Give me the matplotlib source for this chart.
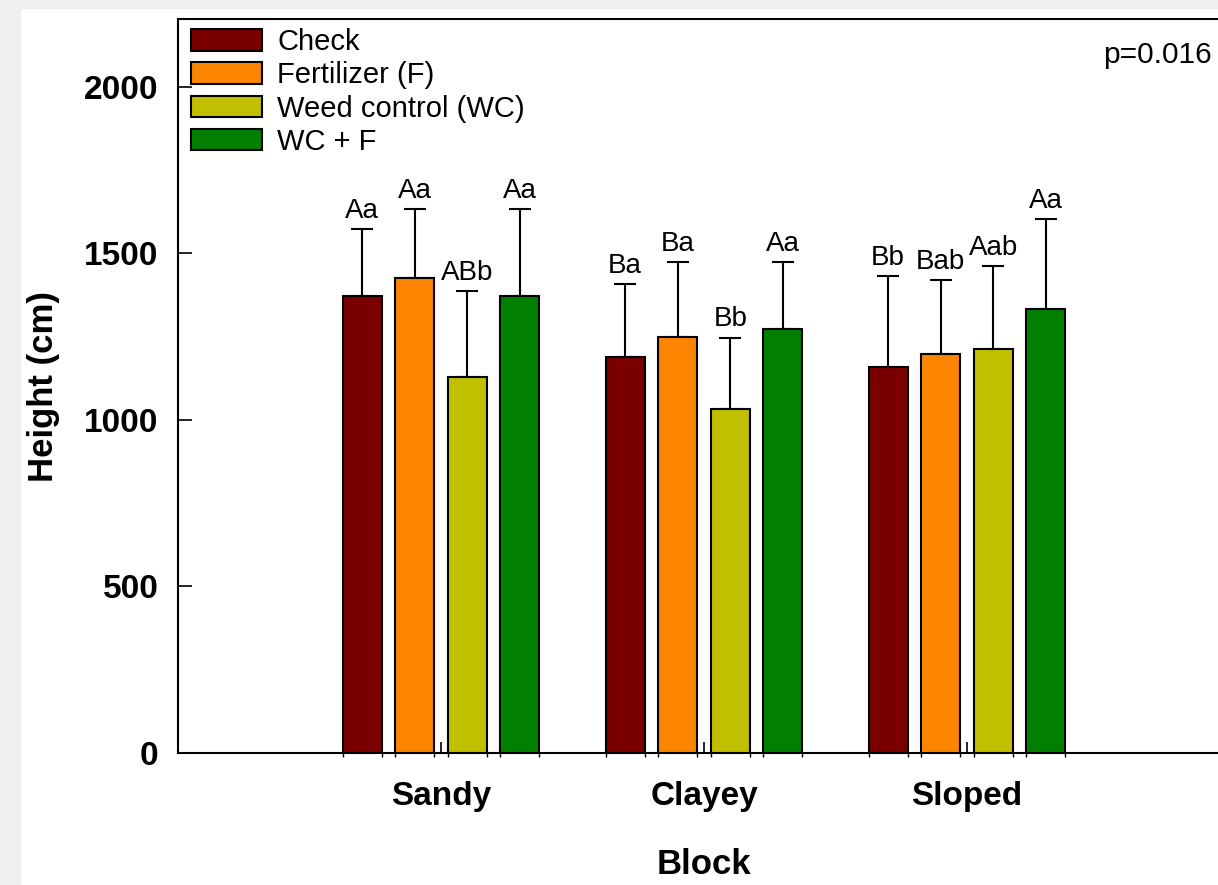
import numpy as np
import matplotlib.pyplot as plt
from matplotlib.patches import Rectangle

plt.rcParams['font.family'] = ['Liberation Sans', 'DejaVu Sans']

blocks = ['Sandy', 'Clayey', 'Sloped']
treatments = ['Check', 'Fertilizer (F)', 'Weed control (WC)', 'WC + F']
colors = ['#7a0000', '#fb8500', '#c0c000', '#007f00']

# mean height per treatment (rows) and block (columns)
height = [[1372, 1189, 1159],
          [1426, 1249, 1198],
          [1129, 1033, 1213],
          [1372, 1273, 1333]]
# upper error bar
err = [[201, 219, 273],
       [207, 225, 222],
       [258, 213, 249],
       [261, 201, 270]]
letters = [['Aa', 'Ba', 'Bb'],
           ['Aa', 'Ba', 'Bab'],
           ['ABb', 'Bb', 'Aab'],
           ['Aa', 'Aa', 'Aa']]

W, H = 1218, 885
fig = plt.figure(figsize=(W / 100, H / 100), dpi=100)
fig.set_facecolor('white')
# light grey page margin
fig.patches.append(Rectangle((0, 0), 20 / W, 1, transform=fig.transFigure, color='#efefef', zorder=0))
fig.patches.append(Rectangle((0, 1 - 8 / H), 1, 8 / H, transform=fig.transFigure, color='#efefef', zorder=0))

ax = fig.add_axes([178 / W, (H - 753) / H, 1052 / W, 734 / H])
ax.set_xlim(0, 4)
ax.set_ylim(0, 2204)

x = np.arange(1, len(blocks) + 1)
bw = 0.148
step = 0.2
edges = []
for i in range(len(treatments)):
    xi = x + (i - 1.5) * step
    ax.bar(xi, height[i], bw, color=colors[i], edgecolor='black', linewidth=1.5,
           label=treatments[i], zorder=3)
    ax.errorbar(xi, height[i], yerr=[np.zeros(3), err[i]], fmt='none', ecolor='black',
                elinewidth=1.5, capsize=8, capthick=1.5, zorder=2)
    for j in range(len(blocks)):
        ax.annotate(letters[i][j], (xi[j], height[i][j] + err[i][j]), xytext=(0, 4),
                    textcoords='offset points', ha='center', va='bottom', fontsize=20)
    edges += list(xi - bw / 2) + list(xi + bw / 2)

ax.set_yticks([0, 500, 1000, 1500, 2000])
ax.tick_params(axis='y', direction='in', length=10, width=1.2, pad=14, labelsize=24)
for t in ax.get_yticklabels():
    t.set_fontweight('bold')
ax.set_xticks(x)
ax.set_xticklabels(blocks, fontsize=24, fontweight='bold')
ax.tick_params(axis='x', direction='in', length=8, width=1.2, pad=20)
ax.set_xticks(edges, minor=True)
ax.tick_params(axis='x', which='minor', direction='out', length=3, width=1)

for s in ax.spines.values():
    s.set_linewidth(1.5)

ax.set_ylabel('Height (cm)', fontsize=25, fontweight='bold')
ax.set_xlabel('Block', fontsize=25, fontweight='bold', labelpad=26)
ax.yaxis.set_label_coords(-(178 - 60) / 1052, 0.5)

fig.text(1212 / W, 1 - 55 / H, 'p=0.016', fontsize=21.5, ha='right', va='center')

ax.legend(loc='upper left', bbox_to_anchor=(13 / 1052, 1 - 9 / 734), frameon=False,
          fontsize=21, handlelength=2.45, handleheight=0.75, labelspacing=0.18,
          handletextpad=0.5, borderpad=0, borderaxespad=0)

plt.savefig('out.png', dpi=100)
